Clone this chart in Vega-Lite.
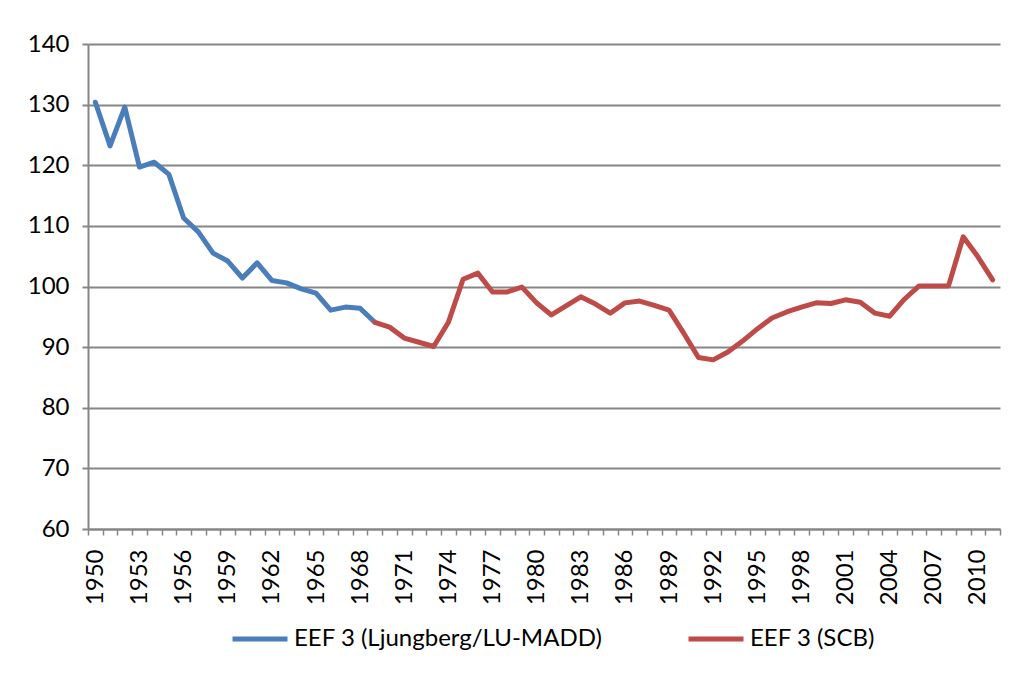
{
  "$schema": "https://vega.github.io/schema/vega-lite/v6.json",
  "autosize": "none",
  "width": 912,
  "height": 485,
  "padding": {"left": 88, "top": 44, "right": 16, "bottom": 145},
  "background": "white",
  "config": {
    "view": {"stroke": null},
    "font": "Lato"
  },
  "data": {
    "values": [
      {"year": 1950, "series": "EEF 3 (Ljungberg/LU-MADD)", "value": 130.4},
      {"year": 1951, "series": "EEF 3 (Ljungberg/LU-MADD)", "value": 123.2},
      {"year": 1952, "series": "EEF 3 (Ljungberg/LU-MADD)", "value": 129.6},
      {"year": 1953, "series": "EEF 3 (Ljungberg/LU-MADD)", "value": 119.7},
      {"year": 1954, "series": "EEF 3 (Ljungberg/LU-MADD)", "value": 120.5},
      {"year": 1955, "series": "EEF 3 (Ljungberg/LU-MADD)", "value": 118.5},
      {"year": 1956, "series": "EEF 3 (Ljungberg/LU-MADD)", "value": 111.3},
      {"year": 1957, "series": "EEF 3 (Ljungberg/LU-MADD)", "value": 109.0},
      {"year": 1958, "series": "EEF 3 (Ljungberg/LU-MADD)", "value": 105.5},
      {"year": 1959, "series": "EEF 3 (Ljungberg/LU-MADD)", "value": 104.2},
      {"year": 1960, "series": "EEF 3 (Ljungberg/LU-MADD)", "value": 101.4},
      {"year": 1961, "series": "EEF 3 (Ljungberg/LU-MADD)", "value": 103.9},
      {"year": 1962, "series": "EEF 3 (Ljungberg/LU-MADD)", "value": 101.0},
      {"year": 1963, "series": "EEF 3 (Ljungberg/LU-MADD)", "value": 100.6},
      {"year": 1964, "series": "EEF 3 (Ljungberg/LU-MADD)", "value": 99.6},
      {"year": 1965, "series": "EEF 3 (Ljungberg/LU-MADD)", "value": 98.9},
      {"year": 1966, "series": "EEF 3 (Ljungberg/LU-MADD)", "value": 96.1},
      {"year": 1967, "series": "EEF 3 (Ljungberg/LU-MADD)", "value": 96.6},
      {"year": 1968, "series": "EEF 3 (Ljungberg/LU-MADD)", "value": 96.4},
      {"year": 1969, "series": "EEF 3 (Ljungberg/LU-MADD)", "value": 94.1},
      {"year": 1969, "series": "EEF 3 (SCB)", "value": 94.1},
      {"year": 1970, "series": "EEF 3 (SCB)", "value": 93.3},
      {"year": 1971, "series": "EEF 3 (SCB)", "value": 91.5},
      {"year": 1972, "series": "EEF 3 (SCB)", "value": 90.8},
      {"year": 1973, "series": "EEF 3 (SCB)", "value": 90.1},
      {"year": 1974, "series": "EEF 3 (SCB)", "value": 94.1},
      {"year": 1975, "series": "EEF 3 (SCB)", "value": 101.2},
      {"year": 1976, "series": "EEF 3 (SCB)", "value": 102.2},
      {"year": 1977, "series": "EEF 3 (SCB)", "value": 99.1},
      {"year": 1978, "series": "EEF 3 (SCB)", "value": 99.1},
      {"year": 1979, "series": "EEF 3 (SCB)", "value": 99.9},
      {"year": 1980, "series": "EEF 3 (SCB)", "value": 97.3},
      {"year": 1981, "series": "EEF 3 (SCB)", "value": 95.3},
      {"year": 1982, "series": "EEF 3 (SCB)", "value": 96.8},
      {"year": 1983, "series": "EEF 3 (SCB)", "value": 98.3},
      {"year": 1984, "series": "EEF 3 (SCB)", "value": 97.1},
      {"year": 1985, "series": "EEF 3 (SCB)", "value": 95.6},
      {"year": 1986, "series": "EEF 3 (SCB)", "value": 97.3},
      {"year": 1987, "series": "EEF 3 (SCB)", "value": 97.6},
      {"year": 1988, "series": "EEF 3 (SCB)", "value": 96.9},
      {"year": 1989, "series": "EEF 3 (SCB)", "value": 96.1},
      {"year": 1990, "series": "EEF 3 (SCB)", "value": 92.3},
      {"year": 1991, "series": "EEF 3 (SCB)", "value": 88.3},
      {"year": 1992, "series": "EEF 3 (SCB)", "value": 87.9},
      {"year": 1993, "series": "EEF 3 (SCB)", "value": 89.2},
      {"year": 1994, "series": "EEF 3 (SCB)", "value": 91.0},
      {"year": 1995, "series": "EEF 3 (SCB)", "value": 93.0},
      {"year": 1996, "series": "EEF 3 (SCB)", "value": 94.8},
      {"year": 1997, "series": "EEF 3 (SCB)", "value": 95.8},
      {"year": 1998, "series": "EEF 3 (SCB)", "value": 96.6},
      {"year": 1999, "series": "EEF 3 (SCB)", "value": 97.3},
      {"year": 2000, "series": "EEF 3 (SCB)", "value": 97.2},
      {"year": 2001, "series": "EEF 3 (SCB)", "value": 97.8},
      {"year": 2002, "series": "EEF 3 (SCB)", "value": 97.4},
      {"year": 2003, "series": "EEF 3 (SCB)", "value": 95.6},
      {"year": 2004, "series": "EEF 3 (SCB)", "value": 95.1},
      {"year": 2005, "series": "EEF 3 (SCB)", "value": 97.9},
      {"year": 2006, "series": "EEF 3 (SCB)", "value": 100.1},
      {"year": 2007, "series": "EEF 3 (SCB)", "value": 100.1},
      {"year": 2008, "series": "EEF 3 (SCB)", "value": 100.1},
      {"year": 2009, "series": "EEF 3 (SCB)", "value": 108.2},
      {"year": 2010, "series": "EEF 3 (SCB)", "value": 104.9},
      {"year": 2011, "series": "EEF 3 (SCB)", "value": 101.1}
    ]
  },
  "mark": {"type": "line", "strokeWidth": 5, "strokeCap": "round", "strokeJoin": "round"},
  "encoding": {
    "x": {
      "field": "year",
      "type": "ordinal",
      "scale": {"type": "band", "paddingInner": 0, "paddingOuter": 0},
      "axis": {
        "title": null,
        "labelAngle": -90,
        "labelAlign": "right",
        "labelBaseline": "middle",
        "labelFontSize": 24,
        "labelColor": "black",
        "labelPadding": 14,
        "labelExpr": "(datum.value - 1950) % 3 == 0 ? datum.label : ''",
        "labelOverlap": false,
        "tickBand": "extent",
        "tickColor": "#868686",
        "tickWidth": 1.5,
        "tickSize": 6,
        "domainColor": "#868686",
        "domainWidth": 2,
        "grid": false
      }
    },
    "y": {
      "field": "value",
      "type": "quantitative",
      "scale": {"domain": [60, 140], "nice": false, "zero": false},
      "axis": {
        "title": null,
        "values": [60, 70, 80, 90, 100, 110, 120, 130, 140],
        "labelFontSize": 24,
        "labelColor": "black",
        "labelPadding": 13,
        "tickColor": "#868686",
        "tickWidth": 2,
        "tickSize": 6,
        "domainColor": "#868686",
        "domainWidth": 2,
        "grid": true,
        "gridColor": "#868686",
        "gridWidth": 2
      }
    },
    "color": {
      "field": "series",
      "type": "nominal",
      "scale": {
        "domain": ["EEF 3 (Ljungberg/LU-MADD)", "EEF 3 (SCB)"],
        "range": ["#4A7EBB", "#BE4B48"]
      },
      "legend": {
        "title": null,
        "orient": "none",
        "legendX": 142,
        "legendY": 565,
        "direction": "horizontal",
        "symbolType": "stroke",
        "symbolSize": 3025,
        "symbolStrokeWidth": 5,
        "labelFontSize": 24,
        "labelColor": "black",
        "labelOffset": 4,
        "columnPadding": 75,
        "labelLimit": 400
      }
    }
  }
}
